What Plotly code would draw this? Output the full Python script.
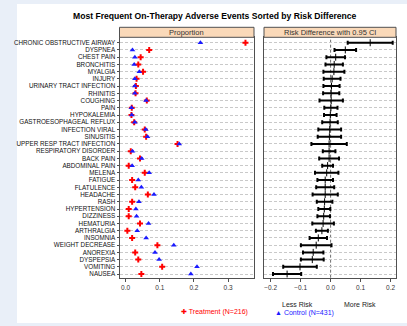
import plotly.graph_objects as go

# Adverse events, ordered from highest to lowest risk difference
events = [
    "CHRONIC OBSTRUCTIVE AIRWAY", "DYSPNEA", "CHEST PAIN", "BRONCHITIS", "MYALGIA",
    "INJURY", "URINARY TRACT INFECTION", "RHINITIS", "COUGHING", "PAIN",
    "HYPOKALEMIA", "GASTROESOPHAGEAL REFLUX", "INFECTION VIRAL", "SINUSITIS",
    "UPPER RESP TRACT INFECTION", "RESPIRATORY DISORDER", "BACK PAIN",
    "ABDOMINAL PAIN", "MELENA", "FATIGUE", "FLATULENCE", "HEADACHE", "RASH",
    "HYPERTENSION", "DIZZINESS", "HEMATURIA", "ARTHRALGIA", "INSOMNIA",
    "WEIGHT DECREASE", "ANOREXIA", "DYSPEPSIA", "VOMITING", "NAUSEA",
]

# Proportion of subjects with each event
treatment = [0.351, 0.069, 0.044, 0.037, 0.051, 0.032, 0.030, 0.029, 0.062, 0.018,
             0.017, 0.025, 0.056, 0.060, 0.152, 0.015, 0.042, 0.009, 0.056, 0.019,
             0.028, 0.065, 0.019, 0.009, 0.009, 0.042, 0.005, 0.019, 0.093, 0.028,
             0.037, 0.107, 0.046]
control = [0.219, 0.020, 0.027, 0.025, 0.040, 0.027, 0.027, 0.027, 0.060, 0.017,
           0.018, 0.027, 0.059, 0.064, 0.157, 0.020, 0.047, 0.019, 0.069, 0.037,
           0.046, 0.083, 0.039, 0.030, 0.032, 0.067, 0.034, 0.060, 0.141, 0.086,
           0.098, 0.209, 0.191]

# Risk difference (treatment - control) with 95% confidence limits
risk_diff = [0.132, 0.049, 0.017, 0.012, 0.011, 0.005, 0.003, 0.002, 0.002, 0.001,
             -0.001, -0.002, -0.003, -0.004, -0.005, -0.005, -0.005, -0.010, -0.013,
             -0.018, -0.018, -0.018, -0.020, -0.021, -0.023, -0.025, -0.029, -0.041,
             -0.048, -0.058, -0.061, -0.102, -0.145]
rd_low = [0.057, 0.013, -0.014, -0.017, -0.024, -0.023, -0.024, -0.025, -0.037, -0.021,
          -0.022, -0.028, -0.041, -0.043, -0.064, -0.026, -0.038, -0.028, -0.052,
          -0.044, -0.048, -0.060, -0.046, -0.041, -0.044, -0.061, -0.049, -0.070,
          -0.099, -0.092, -0.099, -0.158, -0.192]
rd_high = [0.207, 0.085, 0.048, 0.041, 0.046, 0.033, 0.030, 0.029, 0.041, 0.023,
           0.020, 0.024, 0.035, 0.035, 0.054, 0.016, 0.028, 0.008, 0.026, 0.008,
           0.012, 0.024, 0.006, -0.001, -0.002, 0.011, -0.009, -0.012, 0.003,
           -0.024, -0.023, -0.046, -0.098]

prop_ticks = [0.0, 0.1, 0.2, 0.3]
rd_ticks = [-0.2, -0.1, 0.0, 0.1, 0.2]

W, H = 407, 326
FONT = "Liberation Sans, Arial, sans-serif"
RED = "#ff0000"
BLUE = "#1a1aff"
EDGE = "#505050"
GRID = "#c9c9c9"
HEADER_FILL = "#fad9b9"


def px_x(p):
    return p / W


def px_y(p):
    return 1 - p / H


rows = list(range(len(events)))
err_plus = [h - m for h, m in zip(rd_high, risk_diff)]
err_minus = [m - l for m, l in zip(risk_diff, rd_low)]

fig = go.Figure()

fig.add_trace(go.Scatter(
    x=treatment, y=rows, mode="markers", name="Treatment (N=216)",
    marker=dict(symbol="cross", size=5, color=RED, line=dict(width=0)),
    xaxis="x", yaxis="y", showlegend=False,
))
fig.add_trace(go.Scatter(
    x=control, y=rows, mode="markers", name="Control (N=431)",
    marker=dict(symbol="triangle-up", size=5, color=BLUE, line=dict(width=0)),
    xaxis="x", yaxis="y", showlegend=False,
))
fig.add_trace(go.Scatter(
    x=risk_diff, y=rows, mode="markers", name="Risk Difference",
    marker=dict(symbol="line-ns", size=5, color="black",
                line=dict(color="black", width=1)),
    error_x=dict(type="data", symmetric=False, array=err_plus,
                 arrayminus=err_minus, color="black", thickness=2, width=2),
    xaxis="x2", yaxis="y2", showlegend=False,
))

ydom = [px_y(277.7), px_y(37.3)]
yrange = [32.5, -0.75]

axis_common = dict(
    showline=True, mirror=True, linecolor=EDGE, linewidth=1,
    ticks="outside", ticklen=3, tickcolor=EDGE,
    tickfont=dict(family=FONT, size=6.5, color="#333333"),
    zeroline=False, automargin=False,
)

fig.update_layout(
    width=W, height=H,
    margin=dict(l=0, r=0, t=0, b=0),
    paper_bgcolor="#e9eff8",
    plot_bgcolor="white",
    xaxis=dict(domain=[px_x(119.5), px_x(254)], range=[-0.018, 0.376],
               tickvals=prop_ticks, tickformat=".1f", showgrid=False,
               anchor="y", **axis_common),
    yaxis=dict(domain=ydom, range=yrange, tickvals=rows, ticktext=events,
               tickfont=dict(family=FONT, size=6.3, color="#111111"),
               ticks="outside", ticklen=2, tickcolor=EDGE,
               showgrid=True, gridcolor=GRID, griddash="3px,2px", gridwidth=1,
               showline=True, mirror=True, linecolor=EDGE, linewidth=1,
               zeroline=False, automargin=False, anchor="x"),
    xaxis2=dict(domain=[px_x(264), px_x(396)], range=[-0.222, 0.218],
                tickvals=rd_ticks, tickformat=".1f", showgrid=False,
                anchor="y2", **axis_common),
    yaxis2=dict(domain=ydom, range=yrange, tickvals=rows, showticklabels=False,
                ticks="", showgrid=True, gridcolor=GRID, griddash="3px,2px",
                gridwidth=1, showline=True, mirror=True, linecolor=EDGE,
                linewidth=1, zeroline=False, automargin=False, anchor="x2"),
)

shapes = [
    # white page area
    dict(type="rect", xref="paper", yref="paper", layer="below",
         x0=px_x(17), x1=px_x(407), y0=px_y(323), y1=px_y(4),
         fillcolor="white", line=dict(width=0)),
    # panel headers
    dict(type="rect", xref="paper", yref="paper",
         x0=px_x(119.5), x1=px_x(254), y0=px_y(37.3), y1=px_y(27.3),
         fillcolor=HEADER_FILL, line=dict(color=EDGE, width=1)),
    dict(type="rect", xref="paper", yref="paper",
         x0=px_x(264), x1=px_x(396), y0=px_y(37.3), y1=px_y(27.3),
         fillcolor=HEADER_FILL, line=dict(color=EDGE, width=1)),
    # no-difference reference line
    dict(type="line", xref="x2", yref="y2 domain", x0=0, x1=0, y0=0, y1=1,
         line=dict(color="#707070", width=1, dash="3px,2px"), layer="below"),
]
fig.update_layout(shapes=shapes)

annotations = [
    dict(text="<b>Most Frequent On-Therapy Adverse Events Sorted by Risk Difference</b>",
         x=px_x(215), y=px_y(15.7), font=dict(family=FONT, size=8.6, color="black")),
    dict(text="Proportion", x=px_x(186.7), y=px_y(32.3),
         font=dict(family=FONT, size=7.5, color="#333333")),
    dict(text="Risk Difference with 0.95 CI", x=px_x(330), y=px_y(32.3),
         font=dict(family=FONT, size=7.5, color="#333333")),
    dict(text="Less Risk", x=px_x(297), y=px_y(304),
         font=dict(family=FONT, size=7, color="#222222")),
    dict(text="More Risk", x=px_x(360), y=px_y(304),
         font=dict(family=FONT, size=7, color="#222222")),
    dict(text="<span style='color:%s'>✚</span> Treatment (N=216)" % RED,
         x=px_x(179), y=px_y(311.7), xanchor="left",
         font=dict(family=FONT, size=7, color=RED)),
    dict(text="<span style='color:%s'>▲</span> Control (N=431)" % BLUE,
         x=px_x(273), y=px_y(313), xanchor="left",
         font=dict(family=FONT, size=7, color=BLUE)),
]
for a in annotations:
    a.setdefault("xanchor", "center")
    a.update(xref="paper", yref="paper", yanchor="middle", showarrow=False)
fig.update_layout(annotations=annotations)

fig.write_html("out.html")
